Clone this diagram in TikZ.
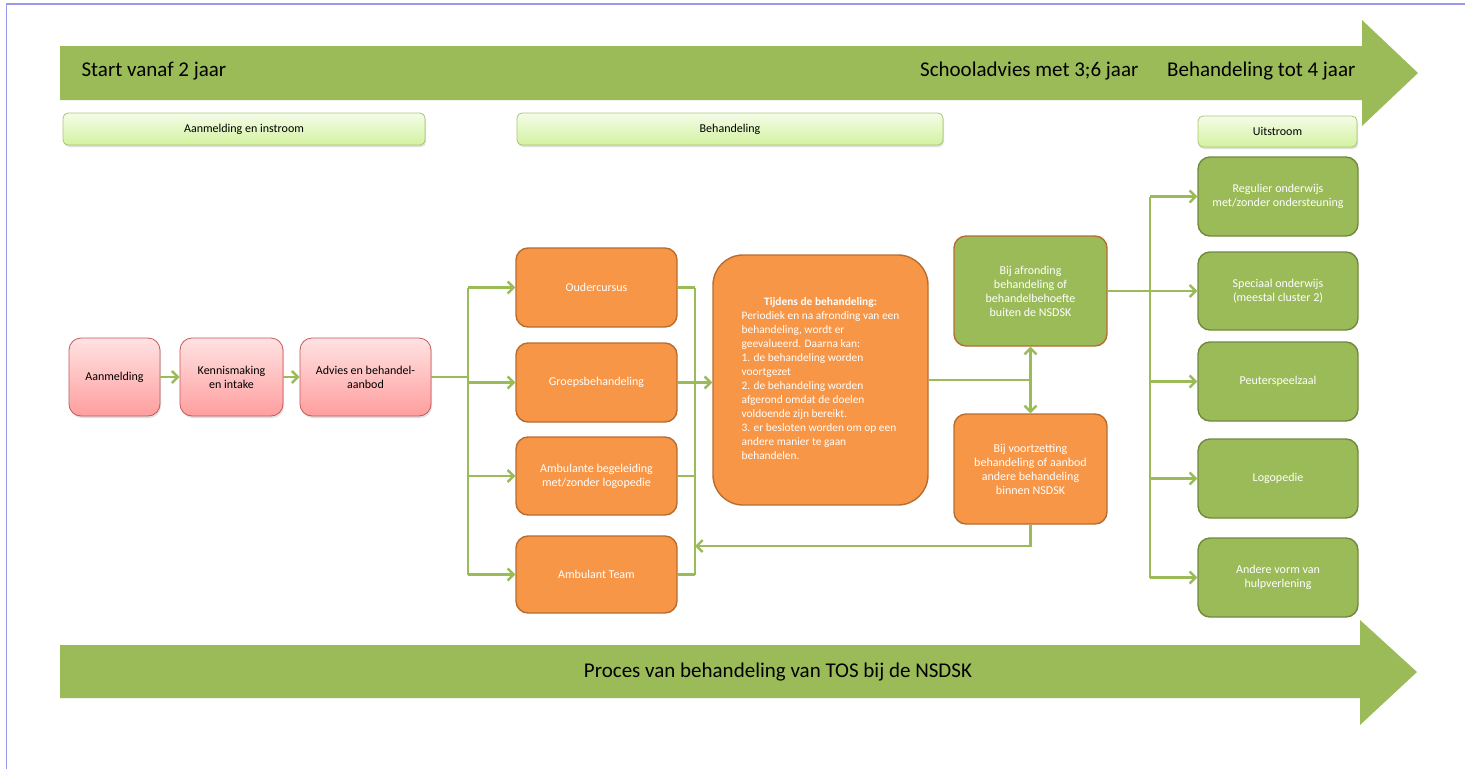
\documentclass[tikz,border=0pt]{standalone}
\usepackage{fontspec}
\setmainfont{Carlito}
\usetikzlibrary{arrows.meta,shadows}
\definecolor{groen}{HTML}{9BBB59}
\definecolor{groenrand}{HTML}{71893F}
\definecolor{oranje}{HTML}{F79646}
\definecolor{oranjerand}{HTML}{B66D31}
\definecolor{rozeboven}{HTML}{FFE2E2}
\definecolor{rozeonder}{HTML}{FF9E9E}
\definecolor{rozerand}{HTML}{C4595A}
\definecolor{kopboven}{HTML}{F4FCE8}
\definecolor{koponder}{HTML}{D3F2A0}
\definecolor{koprand}{HTML}{A9C572}
\definecolor{kader}{HTML}{9999EA}
\tikzset{
  blok/.style 2 args={minimum width=#1,minimum height=#2,inner sep=1pt},
  schaduw/.style={drop shadow={shadow xshift=1pt,shadow yshift=-2pt,opacity=0.25}},
}
\begin{document}
\begin{tikzpicture}[x=1pt,y=-1pt,>={Straight Barb[length=6pt,width=12pt]},
  font=\fontsize{12}{14}\selectfont,
  conn/.style={draw=groen,line width=2.4pt},
  kop/.style={rounded corners=5pt,draw=koprand,line width=0.8pt,top color=kopboven,bottom color=koponder,schaduw,font=\fontsize{12}{14}\selectfont},
  roze/.style={rounded corners=12pt,draw=rozerand,line width=0.8pt,top color=rozeboven,bottom color=rozeonder,schaduw,align=center},
  oranjeblok/.style={rounded corners=12pt,draw=oranjerand,line width=1.4pt,fill=oranje,text=white,align=center},
  groenblok/.style={rounded corners=12pt,draw=groenrand,line width=1.4pt,fill=groen,text=white,align=center},
  pijltekst/.style={font=\fontsize{21}{25}\selectfont}]
  \useasboundingbox (0,0) rectangle (1465,769);

  % kader
  \draw[kader,line width=2pt] (6,4) -- (1465,4);
  \draw[kader,line width=0.8pt] (6,4) -- (6,769);

  % grote pijlen
  \fill[groen] (60,46) -- (1362,46) -- (1362,20) -- (1418,73) -- (1362,126) -- (1362,100) -- (60,100) -- cycle;
  \fill[groen] (60,645) -- (1360,645) -- (1360,620) -- (1417,672) -- (1360,725) -- (1360,698) -- (60,698) -- cycle;
  \node[pijltekst,anchor=west] (start) at (78,71) {Start vanaf 2 jaar};
  \node[pijltekst,anchor=east] (advies36) at (1142,71) {Schooladvies met 3;6 jaar};
  \node[pijltekst,anchor=east] (tot4) at (1359,71) {Behandeling tot 4 jaar};
  \node[pijltekst] (proces) at (778,672) {Proces van behandeling van TOS bij de NSDSK};

  % fasen
  \node[kop,blok={362}{32}] (instroom) at (244,129) {Aanmelding en instroom};
  \node[kop,blok={426}{32}] (behandeling) at (730,129) {Behandeling};
  \node[kop,blok={159}{31}] (uitstroom) at (1277.5,131.5) {Uitstroom};

  % aanmelding en instroom
  \node[roze,blok={91}{78}] (aanmelding) at (114.5,377) {Aanmelding};
  \node[roze,blok={103}{78}] (intake) at (231.5,377) {Kennismaking\\en intake};
  \node[roze,blok={131}{78}] (aanbod) at (365.5,377) {Advies en behandel-\\aanbod};

  % behandeling
  \node[oranjeblok,blok={161}{79}] (ouder) at (596.5,287.5) {Oudercursus};
  \node[oranjeblok,blok={161}{79}] (groep) at (596.5,382.5) {Groepsbehandeling};
  \node[oranjeblok,blok={161}{78}] (ambulant) at (596.5,476) {Ambulante begeleiding\\met/zonder logopedie};
  \node[oranjeblok,blok={161}{77}] (team) at (596.5,574.5) {Ambulant Team};
  \node[oranjeblok,blok={215}{250},rounded corners=30pt,font=\fontsize{11.4}{14}\selectfont] (tijdens) at (820.5,380) {%
    \begin{tabular}{@{}l@{}}
    \multicolumn{1}{@{}c@{}}{\textbf{Tijdens de behandeling:}}\\
    Periodiek en na afronding van een\\
    behandeling, wordt er\\
    geevalueerd. Daarna kan:\\
    1. de behandeling worden\\
    voortgezet\\
    2. de behandeling worden\\
    afgerond omdat de doelen\\
    voldoende zijn bereikt.\\
    3. er besloten worden om op een\\
    andere manier te gaan\\
    behandelen.
    \end{tabular}};
  \node[groenblok,blok={153}{110},draw=oranjerand] (afronding) at (1030.5,291) {Bij afronding\\behandeling of\\behandelbehoefte\\buiten de NSDSK};
  \node[oranjeblok,blok={153}{110}] (voortzetting) at (1030.5,469) {Bij voortzetting\\behandeling of aanbod\\andere behandeling\\binnen NSDSK};

  % uitstroom
  \node[groenblok,blok={160}{79}] (regulier) at (1278,196.5) {Regulier onderwijs\\met/zonder ondersteuning};
  \node[groenblok,blok={160}{78}] (speciaal) at (1278,291) {Speciaal onderwijs\\(meestal cluster 2)};
  \node[groenblok,blok={160}{79}] (peuter) at (1278,381.5) {Peuterspeelzaal};
  \node[groenblok,blok={160}{79}] (logo) at (1278,478.5) {Logopedie};
  \node[groenblok,blok={160}{79}] (andere) at (1278,577.5) {Andere vorm van\\hulpverlening};

  % verbindingen
  \coordinate (splits) at (468,377);
  \coordinate (verzamel) at (695,380);
  \coordinate (terug) at (695,546);
  \coordinate (uit) at (1150,291);
  \draw[conn,->] (aanmelding) -- (intake);
  \draw[conn,->] (intake) -- (aanbod);
  \draw[conn] (aanbod) -- (splits);
  \draw[conn] (splits |- ouder.west) -- (splits |- team.west);
  \foreach \b in {ouder,groep,ambulant,team}
    \draw[conn,->] (splits |- \b.west) -- (\b.west);
  \foreach \b in {ouder,groep,ambulant,team}
    \draw[conn] (\b.east) -- (verzamel |- \b.east);
  \draw[conn] (verzamel |- ouder.east) -- (verzamel |- team.east);
  \draw[conn,->] (groep.east) -- (tijdens.west |- groep.east);
  \draw[conn] (tijdens.east) -- (afronding.south |- tijdens.east) coordinate (knoop);
  \draw[conn,->] (knoop) -- (afronding.south);
  \draw[conn,->] (knoop) -- (voortzetting.north);
  \draw[conn,->] (voortzetting.south) -- (voortzetting.south |- terug) -- (terug);
  \draw[conn] (afronding.east) -- (uit);
  \draw[conn] (uit |- regulier.west) -- (uit |- andere.west);
  \foreach \b in {regulier,speciaal,peuter,logo,andere}
    \draw[conn,->] (uit |- \b.west) -- (\b.west);
\end{tikzpicture}
\end{document}
